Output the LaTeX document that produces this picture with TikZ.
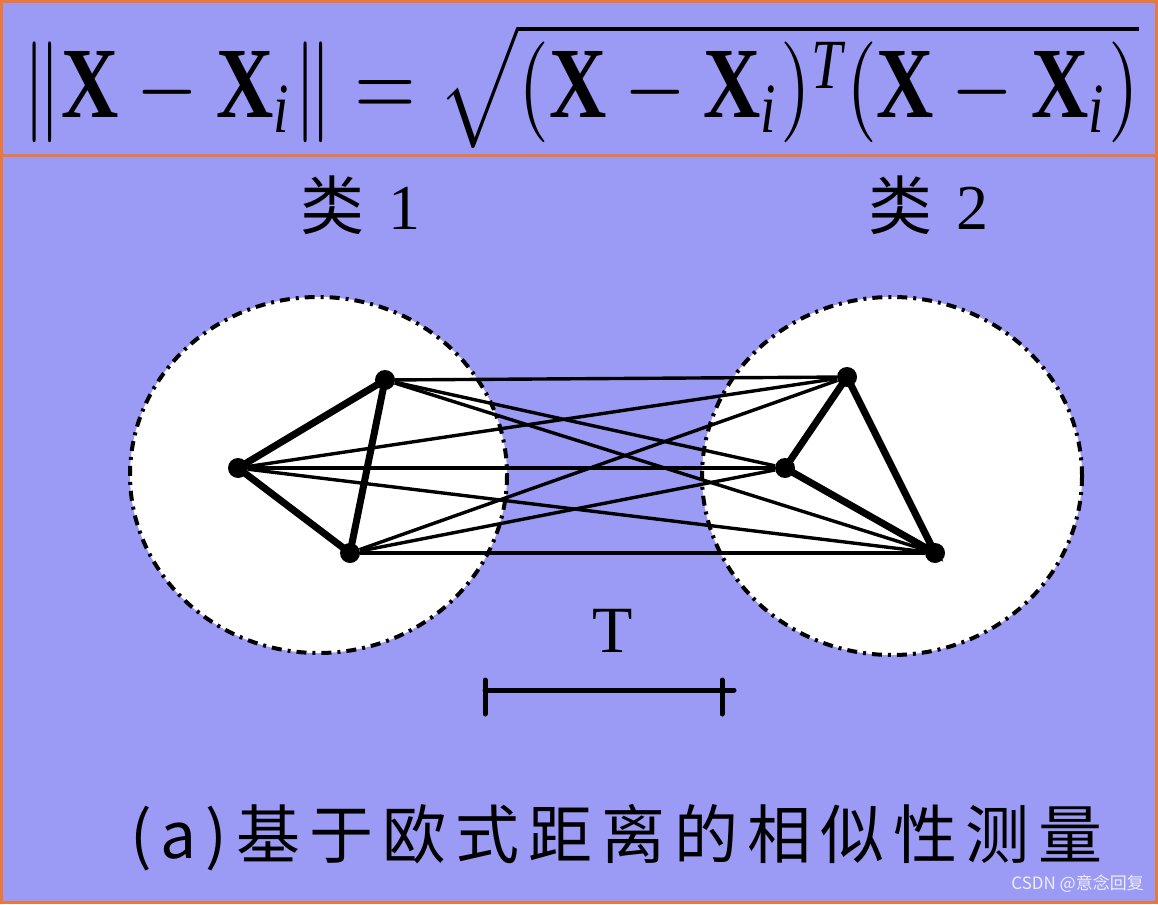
\documentclass[tikz,border=0pt]{standalone}
\usepackage{fontspec}
\setmainfont{Liberation Serif}
\newfontfamily\cjk{Noto Sans CJK SC}
\newfontfamily\capfont[LetterSpace=14]{Noto Sans CJK SC}
\usepackage{amsmath}
\usepackage{graphicx}
\usepackage{xcolor}
\usepackage{tikz}
\usetikzlibrary{positioning}
\definecolor{bgblue}{HTML}{9B9BF6}
\definecolor{frameorange}{HTML}{E8783C}

\begin{document}
\begin{tikzpicture}[x=1pt, y=-1pt,
  lbl/.style={font=\fontsize{64}{64}\selectfont, inner sep=0pt},
  dot/.style={circle, fill=black, inner sep=0pt, minimum size=20pt},
  link/.style={line width=3.4pt},
  bond/.style={line width=7pt, line cap=round},
  zone/.style={fill=white, draw=black, line width=4pt,
               dash pattern=on 10pt off 6pt on 3pt off 6pt},
  tbar/.style={line width=5pt, line cap=round}]
\useasboundingbox (0,0) rectangle (1158,904);
%%── Background and frame ────────────────────────────────
\fill[bgblue] (0,0) rectangle (1158,904);
\draw[frameorange, line width=3pt] (1.5,1.5) rectangle (1156.5,902.5);
\draw[frameorange, line width=3pt] (0,156) -- (1158,156);
%%── Distance formula ────────────────────────────────────
\node[inner sep=0pt, anchor=north west] (eq) at (22,23)
  {\resizebox*{1116pt}{125pt}{$\left\|\mathbf{X}-\mathbf{X}_{\mathit{i}}\right\|
   =\sqrt{(\mathbf{X}-\mathbf{X}_{\mathit{i}})^{\mathit{T}}(\mathbf{X}-\mathbf{X}_{\mathit{i}})}$}};
%%── Class labels ────────────────────────────────────────
\node[lbl] (cls1) at (360,205) {{\cjk 类}\hspace{24pt}1};
\node[lbl] (cls2) at (928,205) {{\cjk 类}\hspace{24pt}2};
%%── Class regions ───────────────────────────────────────
\draw[zone] (318.5,475) ellipse [x radius=188.5, y radius=178];
\draw[zone] (892,476) ellipse [x radius=190, y radius=179];
%%── Samples ─────────────────────────────────────────────
\node[dot] (a1) at (238,468) {};
\node[dot] (a2) at (385,380) {};
\node[dot] (a3) at (350,553) {};
\node[dot] (b1) at (847,377) {};
\node[dot] (b2) at (785,468) {};
\node[dot] (b3) at (935,553) {};
%% between-class distances
\foreach \p in {a1,a2,a3}
  \foreach \q in {b1,b2,b3}
    \draw[link] (\p) -- (\q);
%% within-class distances
\draw[bond] (a1.center) -- (a2.center) -- (a3.center) -- cycle;
\draw[bond] (b1.center) -- (b2.center) -- (b3.center) -- cycle;
%%── Threshold T ─────────────────────────────────────────
\node[lbl, font=\fontsize{66}{66}\selectfont] (tlab) at (613,631) {T};
\coordinate (tl) at (485,690);
\coordinate (tr) at (722,690);
\coordinate (tend) at (734,690);
\draw[tbar] (tl) -- (tend);
\draw[tbar] ([yshift=10pt]tl) -- ([yshift=-24pt]tl);
\draw[tbar] ([yshift=10pt]tr) -- ([yshift=-24pt]tr);
%%── Caption ─────────────────────────────────────────────
\node[inner sep=0pt, anchor=west, font=\fontsize{64}{64}\selectfont\capfont] (cap)
  at (130,838) {(a)基于欧式距离的相似性测量};
\node[inner sep=0pt, anchor=east, text=white!82!bgblue,
  font=\fontsize{17}{17}\selectfont\cjk] (wm) at (1144,884) {CSDN @意念回复};
\end{tikzpicture}
\end{document}
